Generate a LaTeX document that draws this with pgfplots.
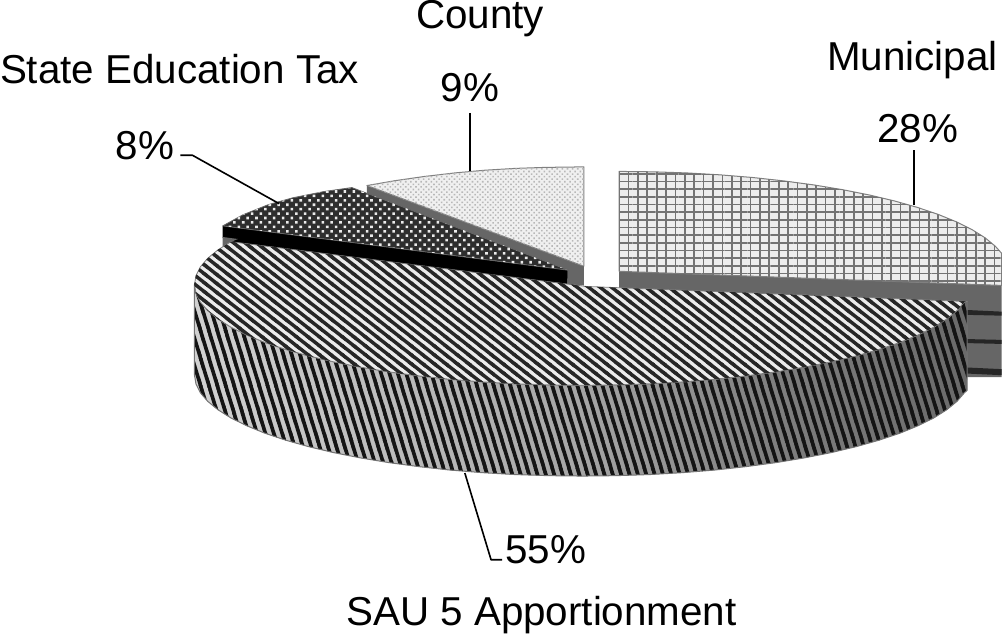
\documentclass[border=0pt]{standalone}
\usepackage{pgfplots}
\pgfplotsset{compat=1.18}
\usepackage{fontspec}
\usepackage{graphicx}
\setmainfont{Liberation Sans}
\usetikzlibrary{patterns.meta,patterns}
\pgfdeclarehorizontalshading{sideshade}{100bp}{
  color(0bp)=(black!40);
  color(12bp)=(black!28);
  color(25bp)=(black!18);
  color(50bp)=(black!35);
  color(62bp)=(black!50);
  color(80bp)=(black!62);
  color(100bp)=(black!72)}
% stripes with tiles that wrap exactly
\pgfdeclarepatternformonly{topstripes}{\pgfqpoint{-1pt}{-1pt}}{\pgfqpoint{12.37pt}{9.88pt}}{\pgfqpoint{11.37pt}{8.88pt}}{
  \pgfsetlinewidth{3.4pt}
  \pgfpathmoveto{\pgfqpoint{-11.37pt}{8.88pt}}\pgfpathlineto{\pgfqpoint{0pt}{0pt}}
  \pgfpathmoveto{\pgfqpoint{-5.685pt}{13.32pt}}\pgfpathlineto{\pgfqpoint{17.055pt}{-4.44pt}}
  \pgfpathmoveto{\pgfqpoint{0pt}{17.76pt}}\pgfpathlineto{\pgfqpoint{22.74pt}{0pt}}
  \pgfusepath{stroke}}
\pgfdeclarepatternformonly{sidestripes}{\pgfqpoint{-1pt}{-1pt}}{\pgfqpoint{9.3pt}{28.2pt}}{\pgfqpoint{8.3pt}{27.2pt}}{
  \pgfsetlinewidth{3.6pt}
  \pgfpathmoveto{\pgfqpoint{-8.3pt}{27.2pt}}\pgfpathlineto{\pgfqpoint{0pt}{0pt}}
  \pgfpathmoveto{\pgfqpoint{-4.15pt}{40.8pt}}\pgfpathlineto{\pgfqpoint{12.45pt}{-13.6pt}}
  \pgfpathmoveto{\pgfqpoint{0pt}{54.4pt}}\pgfpathlineto{\pgfqpoint{16.6pt}{0pt}}
  \pgfusepath{stroke}}
\pgfplotstableread{
x y
968 312
965.2 312.4
957.9 320.9
947.8 329.2
935.0 337.3
919.5 345
901.5 352.4
881.0 359.3
858.4 365.7
833.7 371.6
807.0 376.9
778.8 381.6
749.0 385.6
718.0 389
686.0 391.6
653.4 393.5
620.0 394.6
586.5 395
553.0 394.6
519.6 393.5
487.0 391.6
455.0 389
424.0 385.6
394.3 381.6
366.0 376.9
339.3 371.6
314.6 365.7
292.0 359.3
271.5 352.4
253.5 345
238.0 337.3
225.2 329.2
215.1 320.9
207.8 312.4
203.5 303.7
202 295
203.5 286.3
207.8 277.6
215.1 269.1
225.2 260.8
238 252.7
590 297
}\sautop
\pgfplotstableread{
x y
968 312
965.2 312.4
957.9 320.9
947.8 329.2
935.0 337.3
919.5 345
901.5 352.4
881.0 359.3
858.4 365.7
833.7 371.6
807.0 376.9
778.8 381.6
749.0 385.6
718.0 389
686.0 391.6
653.4 393.5
620.0 394.6
586.5 395
553.0 394.6
519.6 393.5
487.0 391.6
455.0 389
424.0 385.6
394.3 381.6
366.0 376.9
339.3 371.6
314.6 365.7
292.0 359.3
271.5 352.4
253.5 345
238.0 337.3
225.2 329.2
215.1 320.9
207.8 312.4
203.5 303.7
202 295
202 385
203.5 393.7
207.8 402.4
215.1 410.9
225.2 419.2
238 427.3
253.5 435
271.5 442.4
292 449.3
314.6 455.7
339.3 461.6
366 466.9
394.3 471.6
424 475.6
455 479
487 481.6
519.6 483.5
553 484.6
586.5 485
620 484.6
653.4 483.5
686 481.6
718 479
749 475.6
778.8 471.6
807 466.9
833.7 461.6
858.4 455.7
881 449.3
901.5 442.4
919.5 435
935 427.3
947.8 419.2
957.9 410.9
965.2 402.4
968 400
}\sauside
\pgfplotstableread{
x y
623 183
656.6 183.4
690 184.5
722.9 186.4
755 189
786.1 192.4
816 196.4
844.4 201.1
871.1 206.4
896 212.3
918.7 218.7
939.2 225.6
957.3 233
972.8 240.7
985.7 248.8
995.8 257.1
1002 264
1002 296
623 282
}\muni
\pgfplotstableread{
x y
373 197
400 192.3
430 188
460 184.5
490 181.8
520 180
550 179
588 178.5
588 277
}\county
\pgfplotstableread{
x y
230 237
250 226
275 216
300 209
330 203
358 199
573 281
}\state
\begin{document}
\begin{tikzpicture}
\begin{axis}[
  scale only axis, width=1002pt, height=642pt,
  xmin=0, xmax=1002, ymin=0, ymax=642, y dir=reverse,
  hide axis, clip=false,
  every axis plot/.append style={line join=round}]
% rim of the Municipal slice
\addplot[draw=none, fill=black!60] coordinates {(623,282) (1002,296) (1002,387) (623,387)} --cycle;
\addplot[draw=none, fill=black!85] coordinates {(960,320) (1002,322) (1002,326) (960,325)} --cycle;
\addplot[draw=none, fill=black!85] coordinates {(960,349) (1002,350) (1002,354) (960,353)} --cycle;
\addplot[draw=none, fill=black!85] coordinates {(960,377) (1002,379) (1002,385) (960,383)} --cycle;
% Municipal top
\addplot[draw=black!50, line width=1pt, fill=black!7] table {\muni} --cycle;
\addplot[draw=none, pattern={Lines[angle=90,distance=9.3pt,line width=1.7pt]}, pattern color=black!55] table {\muni} --cycle;
\addplot[draw=none, pattern={Lines[angle=0,distance=7.6pt,line width=1.7pt]}, pattern color=black!55] table {\muni} --cycle;
% County rim and top
\addplot[draw=none, fill=black!60] coordinates {(373,197) (588,277) (588,296) (373,205)} --cycle;
\addplot[draw=black!50, line width=1pt, fill=black!6] table {\county} --cycle;
\addplot[draw=none, pattern={Dots[angle=45,distance=3.6pt,radius=1.1pt]}, pattern color=black!28] table {\county} --cycle;
% State rim
\addplot[draw=none, fill=black] coordinates {(230,237) (572,281) (572,296) (238,253) (230,249)} --cycle;
\addplot[draw=none, fill=black!60] coordinates {(230,248) (245,250) (238,253) (230,259)} --cycle;
\addplot[draw=none, fill=black!60] coordinates {(572,279) (588,277) (588,296) (572,296)} --cycle;
% State top
\addplot[draw=black!60, line width=.8pt, fill=black!82] table {\state} --cycle;
\addplot[draw=none, pattern={Dots[angle=45,distance=6.2pt,radius=1.8pt]}, pattern color=black!8] table {\state} --cycle;
% SAU 5 side
\addplot[draw=none, shading=sideshade] table {\sauside} --cycle;
\addplot[draw=none, pattern=sidestripes, pattern color=black!92] table {\sauside} --cycle;
\addplot[draw=black!55, line width=1pt] table {\sauside} --cycle;
% SAU 5 top
\addplot[draw=black!50, line width=.8pt, fill=black!8] table {\sautop} --cycle;
\addplot[draw=none, pattern=topstripes, pattern color=black!85] table {\sautop} --cycle;
% leaders
\addplot[black, line width=1.6pt] coordinates {(915,162) (915,216)};
\addplot[black, line width=1.6pt] coordinates {(475,125) (475,183)};
\addplot[black, line width=1.6pt] coordinates {(188,167) (200,167) (286,215)};
\addplot[black, line width=1.6pt] coordinates {(470,482) (496,568) (507,568)};
% labels
\def\lab{\fontsize{40}{48}\selectfont}
\node[anchor=base, inner sep=0pt, font=\lab] at (axis cs:485,41) {County};
\node[anchor=base west, inner sep=0pt, font=\lab] at (axis cs:9,96) {State Education Tax};
\node[anchor=base, inner sep=0pt, font=\lab] at (axis cs:475,114) {9\%};
\node[anchor=base west, inner sep=0pt, font=\lab] at (axis cs:829,83) {Municipal};
\node[anchor=base, inner sep=0pt, font=\lab] at (axis cs:919,154) {28\%};
\node[anchor=base, inner sep=0pt, font=\lab] at (axis cs:153,171) {8\%};
\node[anchor=base, inner sep=0pt, font=\lab] at (axis cs:550,572) {55\%};
\node[anchor=base, inner sep=0pt, font=\lab] at (axis cs:546,633) {SAU 5 Apportionment};
\end{axis}
\end{tikzpicture}
\end{document}
